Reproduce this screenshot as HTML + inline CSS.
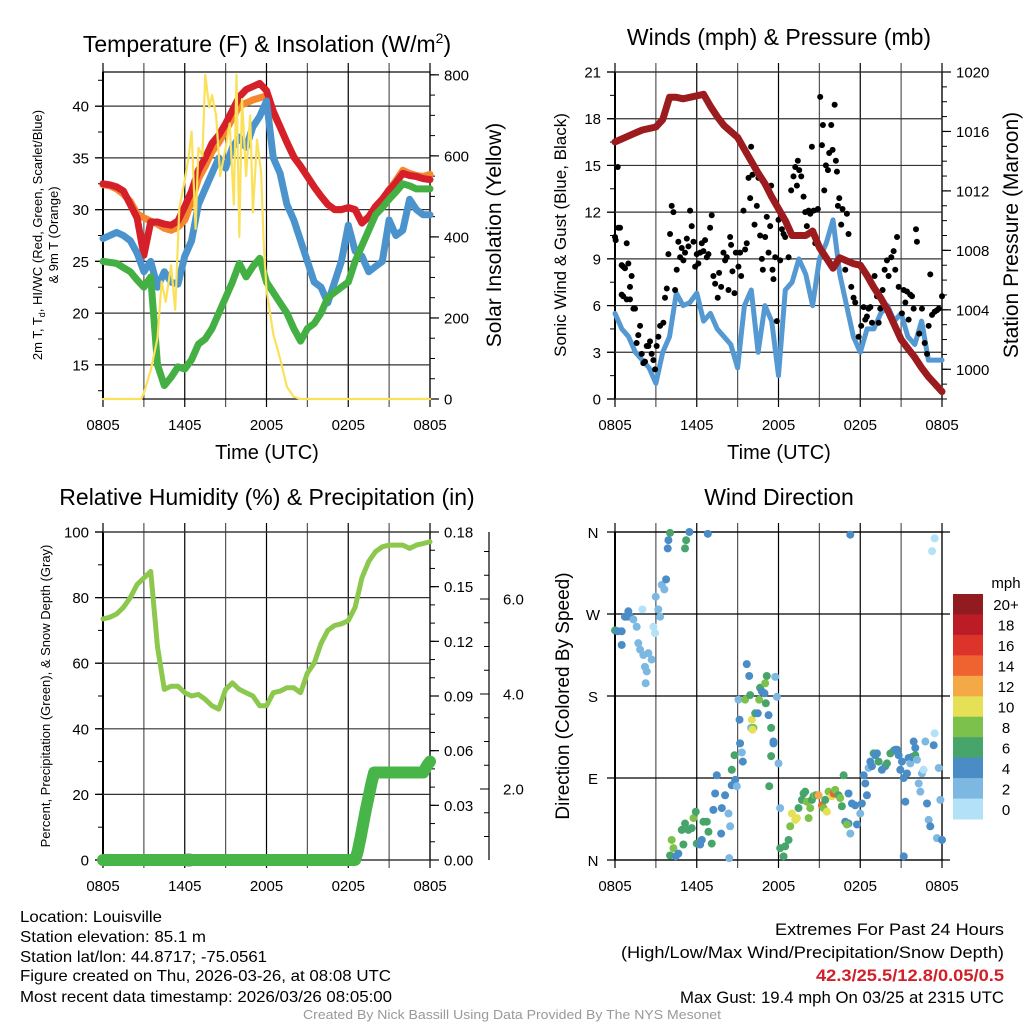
<!DOCTYPE html>
<html><head><meta charset="utf-8"><style>
html,body{margin:0;padding:0;background:#fff;}
svg{display:block;font-family:"Liberation Sans",Arial,sans-serif;}
</style></head><body>
<svg id="root" width="1024" height="1024" viewBox="0 0 1024 1024" xmlns="http://www.w3.org/2000/svg">
<rect width="1024" height="1024" fill="#fff"/>
<text x="267" y="52" font-size="23" text-anchor="middle">Temperature (F) &amp; Insolation (W/m<tspan font-size="14" dy="-9">2</tspan><tspan dy="9">)</tspan></text>
<text x="779" y="45" font-size="23" text-anchor="middle">Winds (mph) &amp; Pressure (mb)</text>
<text x="267" y="505" font-size="23" text-anchor="middle">Relative Humidity (%) &amp; Precipitation (in)</text>
<text x="779" y="505" font-size="23" text-anchor="middle">Wind Direction</text>
<text x="267" y="459" font-size="20" text-anchor="middle">Time (UTC)</text>
<text x="779" y="459" font-size="20" text-anchor="middle">Time (UTC)</text>
<text transform="translate(42,235) rotate(-90)" font-size="13" text-anchor="middle">2m T, T<tspan font-size="9" dy="3">d</tspan><tspan dy="-3">, HI/WC (Red, Green, Scarlet/Blue)</tspan></text>
<text transform="translate(58,235) rotate(-90)" font-size="13" text-anchor="middle">&amp; 9m T (Orange)</text>
<text transform="translate(501,235) rotate(-90)" font-size="21" text-anchor="middle">Solar Insolation (Yellow)</text>
<text transform="translate(566,235) rotate(-90)" font-size="17" text-anchor="middle">Sonic Wind &amp; Gust (Blue, Black)</text>
<text transform="translate(1018,235) rotate(-90)" font-size="21" text-anchor="middle">Station Pressure (Maroon)</text>
<text transform="translate(50,696) rotate(-90)" font-size="13" text-anchor="middle">Percent, Precipitation (Green), &amp; Snow Depth (Gray)</text>
<text transform="translate(569,696) rotate(-90)" font-size="19" text-anchor="middle">Direction (Colored By Speed)</text>
<g font-size="16">
<text x="20" y="922" textLength="142" lengthAdjust="spacingAndGlyphs">Location: Louisville</text>
<text x="20" y="942" textLength="186" lengthAdjust="spacingAndGlyphs">Station elevation: 85.1 m</text>
<text x="20" y="962" textLength="247" lengthAdjust="spacingAndGlyphs">Station lat/lon: 44.8717; -75.0561</text>
<text x="20" y="981" textLength="371" lengthAdjust="spacingAndGlyphs">Figure created on Thu, 2026-03-26, at 08:08 UTC</text>
<text x="20" y="1002" textLength="372" lengthAdjust="spacingAndGlyphs">Most recent data timestamp: 2026/03/26 08:05:00</text>
</g>
<g font-size="17">
<text x="775" y="935" textLength="229" lengthAdjust="spacingAndGlyphs">Extremes For Past 24 Hours</text>
<text x="621" y="958" textLength="383" lengthAdjust="spacingAndGlyphs">(High/Low/Max Wind/Precipitation/Snow Depth)</text>
<text x="816" y="981" textLength="188" lengthAdjust="spacingAndGlyphs" fill="#d0202a" font-weight="bold">42.3/25.5/12.8/0.05/0.5</text>
<text x="680" y="1003" textLength="324" lengthAdjust="spacingAndGlyphs">Max Gust: 19.4 mph On 03/25 at 2315 UTC</text>
</g>
<text x="303" y="1019" font-size="13" fill="#999" textLength="418" lengthAdjust="spacingAndGlyphs">Created By Nick Bassill Using Data Provided By The NYS Mesonet</text>
<g id="plots"></g>
</svg>
<script>
// ---------- data ----------
var timeLabels = ["0805","1405","2005","0205","0805"];
var halfHours = [];
for (var i=0;i<=48;i++) halfHours.push(i/2);
var tempRed = [32.5,32.4,32.2,31.8,30.5,29.2,25.6,28.8,28.8,28.6,28.5,28.9,30.3,31.8,33.8,35.0,36.4,37.2,38.3,39.6,40.9,41.6,41.9,42.2,41.5,39.5,38.0,36.5,35.1,34.2,33.2,32.2,31.3,30.5,30.0,30.0,30.2,30.0,28.7,29.3,30.3,31.0,31.9,32.6,33.5,33.3,33.2,33.0,32.9];
var tempOrange = [32.4,32.3,32.0,31.5,30.8,29.6,29.2,28.9,28.6,28.2,28.0,28.3,29.0,30.8,33.0,34.2,35.6,36.5,37.6,38.8,40.0,40.3,40.6,40.8,41.0,39.3,38.0,36.5,35.1,34.2,33.2,32.2,31.3,30.5,30.0,30.0,30.2,30.0,28.8,29.3,30.3,31.0,31.9,32.8,33.8,33.5,33.3,33.2,33.4];
var tempBlue = [27.2,27.5,27.8,27.5,27.0,25.8,24.0,25.0,22.5,24.0,23.0,22.8,25.5,27.0,30.5,32.0,33.5,35.0,34.0,36.0,37.0,36.0,38.0,39.0,40.5,35.0,33.5,30.5,29.0,27.0,25.0,23.0,22.5,21.0,23.0,25.0,28.5,26.0,25.5,24.0,24.5,25.0,29.0,27.5,28.0,31.0,30.0,29.5,29.5];
var tempGreen = [25.0,24.9,24.8,24.4,24.0,23.2,22.5,23.5,15.0,13.0,13.8,14.8,14.6,15.5,17.0,17.5,18.5,20.0,21.5,23.0,24.8,23.5,24.5,25.3,23.0,22.0,21.0,20.0,18.5,17.3,18.5,19.0,20.0,21.5,22.0,22.5,23.0,25.0,26.5,28.0,29.5,30.2,31.0,31.7,32.5,32.3,32.0,32.0,32.0];
var solarTime = [0,2.8,3.0,3.5,4.0,4.3,4.6,5.0,5.3,5.6,6.0,6.3,6.5,6.8,7.0,7.3,7.5,7.8,8.0,8.3,8.6,9.0,9.3,9.6,9.8,10.0,10.2,10.5,10.8,11.0,11.3,11.6,11.8,12.0,12.5,13.0,13.5,14.0,14.5,24];
var solarVal = [0,0,15,70,150,290,240,330,220,470,540,600,660,420,620,600,800,720,750,700,550,620,680,480,800,400,740,550,700,460,640,560,380,270,160,100,30,5,0,0];
var windSonic = [5.5,4.5,4.0,3.0,2.5,2.0,1.0,3.0,4.0,6.8,6.0,6.2,6.8,5.0,5.5,4.5,4.0,3.5,2.0,6.0,7.0,3.0,6.0,5.0,1.5,7.0,7.5,9.0,8.0,6.0,9.0,10.0,11.5,8.0,6.0,4.0,3.0,4.5,4.5,5.5,6.0,5.0,5.5,4.0,3.5,5.0,2.5,2.5,2.5];
var pressure = [1015.3,1015.5,1015.7,1015.9,1016.1,1016.2,1016.3,1016.8,1018.3,1018.3,1018.2,1018.3,1018.4,1018.5,1017.7,1017.0,1016.4,1016.0,1015.6,1014.8,1014.0,1013.2,1012.5,1011.6,1010.8,1010.0,1009.0,1009.0,1009.0,1009.3,1008.2,1007.5,1006.8,1007.5,1007.3,1007.1,1007.0,1006.3,1005.5,1004.8,1004.0,1003.0,1002.0,1001.4,1000.8,1000.1,999.5,999.0,998.5];
var gustTime = [0,0.05,0.2,0.24,0.37,0.49,0.6,0.73,0.86,0.98,0.49,0.6,0.86,1.1,1.22,1.1,1.35,1.47,1.59,1.71,1.84,1.96,2.08,2.2,2.33,2.45,2.57,2.69,2.82,2.94,3.06,3.18,3.31,3.55,3.67,3.8,3.92,4.04,4.16,4.29,4.41,4.53,4.65,4.78,4.9,5.02,5.14,5.27,5.39,5.51,5.63,5.76,5.88,6,6.12,6.25,6.37,6.49,6.61,6.74,6.86,6.98,7.1,7.22,7.35,7.54,7.64,7.79,7.96,8.08,8.2,8.33,8.45,8.52,8.62,8.77,8.87,9.06,9.18,9.26,9.43,9.55,9.67,9.8,9.92,9.99,10.09,10.24,10.41,10.53,10.65,10.78,10.85,11.02,11.14,11.27,11.39,11.46,11.56,11.63,11.76,11.88,12,12.12,12.25,12.37,12.49,12.74,12.93,13.1,13.23,13.35,13.42,13.52,13.67,13.84,13.96,14.08,14.21,14.33,14.45,14.57,14.7,14.89,15.06,15.19,15.26,15.36,15.48,15.63,15.72,15.87,15.97,16.12,16.21,16.29,16.36,16.46,16.6,16.7,16.9,17.02,17.14,17.34,17.51,17.63,17.88,18.07,18.25,18.37,18.49,18.61,18.74,18.86,19.05,19.23,19.35,19.47,19.64,19.79,19.96,20.08,20.28,20.45,20.57,20.7,20.82,21.06,21.19,21.31,21.43,21.55,21.67,21.8,21.92,22.09,22.16,22.33,22.53,22.73,22.9,23.02,23.14,23.27,23.46,23.63,23.76,24];
var gustVal = [10.4,10.2,14.9,11,11,8.6,8.5,8.4,10,8.7,6.7,6.6,6.4,6.4,7.9,7.2,5.8,5.8,3.6,4.1,4.7,2.9,2.3,2.4,3.4,3.4,3.7,2.9,2.5,1.9,3.4,4,4.7,4.9,6.5,7.1,9.3,10.6,12.4,12,7,8.3,10.1,9.1,9.7,8.9,9.4,10.3,9.8,12.1,11.1,10.1,8.5,9.3,8.7,9.4,10,9.5,10.2,9.1,9.3,11,11.8,7.9,7.4,6.5,8.1,7.2,9.4,8.9,9.1,7,10.4,9.9,8.2,6.8,9.4,8.5,9.4,7.9,12.1,9.6,10,14.2,12.9,16.2,14.4,11.2,12.4,14.2,10.5,9,8.3,10.4,11.7,9.4,11.1,13.7,8.3,7.7,9.1,5,11.5,8.9,10.9,10.6,10.4,9.1,13.4,14.3,14.9,13.7,15.3,14.7,14.3,13,12,11.1,12.1,11.9,16.2,12.1,10,12.2,19.4,16.3,17.6,13.4,15,14.7,15.8,17.6,16,18.9,15.3,14.6,12.4,12.9,11.2,12.2,8.3,11.9,10.6,7.2,6.5,6.2,4,4.7,5.9,5.1,5.3,5.8,5.9,4.9,7.9,6.6,4.9,5.8,7,8.3,8.9,7.9,9.1,9.5,8.3,10.4,7.2,5.5,7,6.2,6.9,5.1,6.7,6.6,5.8,10.9,10.1,4.2,5.8,3.6,2.9,4.7,8,5.4,5.6,5.7,5.8,6.6];
var rhVal = [73.5,74,75,77,80,84,86,88,65,52,53,53,51,50,50.5,49,47,46,52,54,52,51,50,47,47,51,51.5,52.5,52.5,51,57,60,66,70,71.5,72,73,77,86,91,94,95.5,96,96,96,95,96,96.5,97];
var precipTime = [0,18.5,18.7,18.9,19.1,19.3,19.5,19.7,19.9,20.5,21,22,23,23.5,23.8,24];
var precipVal = [0,0,0.005,0.012,0.02,0.028,0.035,0.042,0.048,0.048,0.048,0.048,0.048,0.048,0.052,0.054];
var snowTime = [6.3];
var snowVal = [0];
var wdTime = [0,0.2,0.49,0.49,0.73,0.98,0.86,1.1,1.35,1.59,1.71,1.84,2.01,2.08,2.2,2.33,2.25,2.45,2.69,2.82,2.94,2.99,3.18,3.31,3.43,3.62,3.75,3.87,3.92,4.04,5.14,5.22,5.46,6.81,4.04,4.16,4.29,4.46,4.65,4.9,5.02,5.14,5.39,5.63,5.76,5.93,6.0,6.25,6.37,6.49,6.74,6.86,7.1,7.22,7.35,7.47,7.84,8.08,7.79,8.33,8.45,8.57,8.82,8.94,8.38,8.57,8.77,9.18,9.31,9.38,9.14,9.06,9.55,9.67,9.85,9.92,10.04,9.99,10.16,10.09,10.29,10.48,10.58,10.65,10.78,10.97,11.02,11.14,11.07,11.27,11.46,11.63,11.63,11.46,11.32,11.76,11.88,12.0,12.12,12.12,12.37,12.49,12.74,12.86,12.98,13.23,13.35,13.47,13.72,13.84,13.96,14.08,14.21,14.33,14.45,14.57,14.7,14.82,14.94,15.19,15.31,15.43,15.55,15.67,15.92,16.04,16.16,16.41,16.53,16.65,16.78,16.9,17.14,17.02,17.27,17.39,17.63,17.76,18.0,18.12,18.25,18.37,18.49,18.61,18.74,18.86,18.98,19.1,19.23,19.35,19.59,19.84,19.96,20.21,20.45,20.57,20.7,20.82,20.94,21.06,21.19,21.31,21.43,21.55,21.67,21.8,21.92,22.04,22.04,22.16,22.29,22.41,22.53,22.65,22.78,22.9,23.02,23.14,23.27,23.46,23.46,23.39,23.63,23.76,23.88,24.0,17.14,17.27,21.19];
var wdDir = [252,251,251,236,267,273,267,267,264,256,238,231,275,225,212,207,194,227,220,256,249,289,275,267,302,297,308,342,351,359,342,351,360,358,5,22,13,4,7,33,17,40,33,35,46,53,18,17,22,42,42,31,18,55,73,93,57,71,29,51,37,82,88,81,2,99,115,128,118,108,154,176,176,215,202,181,154,145,145,143,161,161,176,189,185,183,194,202,172,159,145,130,128,114,81,201,179,106,57,13,4,15,22,37,51,44,46,57,66,73,75,64,46,57,66,70,71,71,71,60,57,66,53,75,70,73,77,71,68,59,93,42,40,39,29,62,60,39,51,62,93,84,71,101,108,103,117,115,117,108,99,103,106,117,120,121,121,115,99,108,90,64,95,112,106,113,130,115,123,110,84,75,95,99,130,62,44,37,339,353,139,126,24,101,66,22,73,357,4,57];
var wdSpd = [6,4,4,4,4,4,4,4,2,2,2,2,0,2,2,2,2,2,2,0,0,2,2,2,2,2,4,4,4,6,6,6,4,4,6,8,8,4,4,6,6,6,6,6,8,6,6,4,4,6,6,6,6,4,4,4,4,4,4,2,2,4,4,2,2,6,6,4,2,4,4,2,8,4,4,6,10,2,8,10,6,4,8,6,4,4,8,6,6,4,6,4,4,6,6,2,2,2,2,6,6,6,6,8,10,10,10,6,6,6,6,8,8,8,6,6,8,6,12,14,8,6,10,8,10,14,8,6,8,6,6,4,4,8,2,4,4,4,2,4,4,4,4,2,4,4,6,4,4,6,4,4,6,6,6,4,4,4,4,4,4,4,4,4,2,4,4,6,4,2,2,2,2,0,2,4,2,4,0,0,0,4,2,2,2,4,4,4];
var speedBins = ["0","2","4","6","8","10","12","14","16","18","20+"];
var binColors = ["#b3e1f7","#7db8e2","#4a8cc6","#47a56c","#7cc14b","#e6e056","#f5a846","#ee6330","#dc342a","#bb1c25","#921b1f"];

// ---------- helpers ----------
var NS="http://www.w3.org/2000/svg";
var plots=document.getElementById('plots');
function mk(tag,attrs,parent){var e=document.createElementNS(NS,tag);for(var k in attrs)e.setAttribute(k,attrs[k]);(parent||plots).appendChild(e);return e;}
function lin(d0,d1,r0,r1){return function(v){return r0+(v-d0)/(d1-d0)*(r1-r0);};}

function frame(x0,x1,y0,y1,name){
  var g=mk('g',{});
  
  
  var xs=lin(0,24,x0,x1);
  for(var h=0;h<=24;h+=3){
    var l=mk('line',{x1:xs(h),x2:xs(h),y1:y0-9,y2:y1+8,stroke:(h%6==0)?'#000':'#555','stroke-width':1.2},g);
    
    
  }
  for(var i=0;i<timeLabels.length;i++){
    var t=mk('text',{x:xs(i*6),y:y1+31,'font-size':15,'text-anchor':'middle'},g);
    t.textContent=timeLabels[i];
    
    
  }
  mk('rect',{x:x0,y:y0,width:x1-x0,height:y1-y0,fill:'none',stroke:'#000','stroke-width':1.2},g);
  mk('line',{x1:x0,x2:x0,y1:y0,y2:y1,stroke:'#000','stroke-width':2},g);
  return {g:g,xs:xs};
}
function yAxis(g,x0,x1,ys,majors,minors,fmt,side,grid,name){
  minors.forEach(function(v){
    var y=ys(v);
    if(side=='left') mk('line',{x1:x0-5,x2:x0,y1:y,y2:y,stroke:'#000','stroke-width':1},g);
    else mk('line',{x1:x1,x2:x1+5,y1:y,y2:y,stroke:'#000','stroke-width':1},g);
  });
  majors.forEach(function(v){
    var y=ys(v);
    if(grid){var gl=mk('line',{x1:x0-8,x2:x1+(side=='right'?8:0),y1:y,y2:y,stroke:'#333','stroke-width':1.2},g);
      
      }
    if(side=='left') mk('line',{x1:x0-8,x2:x0,y1:y,y2:y,stroke:'#000','stroke-width':1.2},g);
    else mk('line',{x1:x1,x2:x1+9,y1:y,y2:y,stroke:'#000','stroke-width':1.2},g);
    var t=mk('text',{x:side=='left'?x0-14:x1+14,y:y+5.5,'font-size':15,'text-anchor':side=='left'?'end':'start'},g);
    t.textContent=fmt(v);
    
    
  });
}
function range(a,b,s){var r=[];for(var v=a;v<=b+1e-9;v+=s)r.push(Math.round(v*1000)/1000);return r;}
function line(xs,ys,tArr,vArr,color,w,name,grp){
  var pts=[];var n=Math.min(tArr.length,vArr.length);
  for(var i=0;i<n;i++)pts.push(xs(tArr[i]).toFixed(1)+','+ys(vArr[i]).toFixed(1));
  var p=mk('polyline',{points:pts.join(' '),fill:'none',stroke:color,'stroke-width':w,'stroke-linejoin':'round','stroke-linecap':'round'},grp);
  
  
  return p;
}

// ---------- Panel 1: temperature ----------
(function(){
  var x0=103,x1=430,y0=72,y1=399;
  var f=frame(x0,x1,y0,y1,'temperature');
  var ys=lin(11.7,43.3,y1,y0), ss=lin(0,807,y1,y0);
  yAxis(f.g,x0,x1,ys,[15,20,25,30,35,40],range(12.5,42.5,2.5),function(v){return v;},'left',true,'temperature');
  yAxis(f.g,x0,x1,ss,[0,200,400,600,800],range(0,800,50),function(v){return v;},'right',false,'solar');
  var g=mk('g',{});
  
  
  line(f.xs,ys,halfHours,tempOrange,'#f5872f',7,'temp-9m-orange-line',g);
  line(f.xs,ys,halfHours,tempRed,'#d5202a',7,'temp-2m-red-line',g);
  line(f.xs,ys,halfHours,tempBlue,'#4b93cc',7,'windchill-blue-line',g);
  line(f.xs,ys,halfHours,tempGreen,'#44b043',7,'dewpoint-green-line',g);
  line(f.xs,ss,solarTime,solarVal,'#fbe15a',2.2,'solar-insolation-line',g);
})();

// ---------- Panel 2: winds ----------
(function(){
  var x0=615,x1=942,y0=72,y1=399;
  var f=frame(x0,x1,y0,y1,'wind');
  var ys=lin(0,21,y1,y0), ps=lin(998,1020,y1,y0);
  yAxis(f.g,x0,x1,ys,range(0,21,3),range(0,21,1.5),function(v){return v;},'left',true,'wind');
  yAxis(f.g,x0,x1,ps,[1000,1004,1008,1012,1016,1020],range(998,1020,1),function(v){return v;},'right',false,'pressure');
  var g=mk('g',{});
  
  
  line(f.xs,ys,halfHours,windSonic,'#5499d2',5,'sonic-wind-line',g);
  var n=Math.min(gustTime.length,gustVal.length);
  for(var i=0;i<n;i++){
    var c=mk('circle',{cx:f.xs(gustTime[i]),cy:ys(gustVal[i]),r:3,fill:'#000'},g);
    
    
  }
  line(f.xs,ps,halfHours,pressure,'#9c1b1f',7,'pressure-line',g);
})();

// ---------- Panel 3: humidity ----------
(function(){
  var x0=103,x1=430,y0=532,y1=860;
  var f=frame(x0,x1,y0,y1,'humidity');
  var ys=lin(0,100,y1,y0), ps=lin(0,0.18,y1,y0);
  yAxis(f.g,x0,x1,ys,range(0,100,20),range(0,100,10),function(v){return v;},'left',true,'humidity');
  yAxis(f.g,x0,x1,ps,range(0,0.18,0.03),range(0,0.18,0.01),function(v){return v.toFixed(2);},'right',false,'precip');
  var sg=mk('g',{});
  
  
  var sx=489, sd=lin(2,6,789,599);
  mk('line',{x1:sx,x2:sx,y1:532,y2:860,stroke:'#000','stroke-width':1.2},sg);
  [0.5,1,1.5,2,2.5,3,3.5,4,4.5,5,5.5,6,6.5,7].forEach(function(v){var y=sd(v);if(y<532||y>860)return;
    var maj=(v%2==0);mk('line',{x1:sx-(maj?9:5),x2:sx,y1:y,y2:y,stroke:'#000','stroke-width':1},sg);
    if(maj){var t=mk('text',{x:sx+14,y:y+5.5,'font-size':15},sg);t.textContent=v.toFixed(1);
      
      }
  });
  var g=mk('g',{});
  
  
  for(var i=0;i<snowTime.length;i++){
    var s=mk('circle',{cx:f.xs(snowTime[i]),cy:ys(snowVal[i]),r:7,fill:'#bbb'},g);
    
    
  }
  line(f.xs,ys,halfHours,rhVal,'#8cc84e',5,'relative-humidity-line',g);
  line(f.xs,ps,precipTime,precipVal,'#48b548',12,'precipitation-line',g);
})();

// ---------- Panel 4: wind direction ----------
(function(){
  var x0=615,x1=942,y0=532,y1=860;
  var f=frame(x0,x1,y0,y1,'direction');
  var ds=lin(0,360,y1,y0);
  var labs=['N','E','S','W','N'];
  [0,90,180,270,360].forEach(function(v,i){
    var y=ds(v);
    var gl=mk('line',{x1:x0-8,x2:x1+8,y1:y,y2:y,stroke:'#000','stroke-width':1.2},f.g);
    
    
    var t=mk('text',{x:x0-22,y:y+6,'font-size':15,'text-anchor':'middle'},f.g);
    t.textContent=labs[i];
    
    
  });
  var g=mk('g',{});
  
  
  var n=Math.min(wdTime.length,wdDir.length);
  for(var i=0;i<n;i++){
    var sp=(wdSpd[i]===undefined)?4:wdSpd[i];
    var bi=Math.min(10,Math.round(sp/2));
    var c=mk('circle',{cx:f.xs(wdTime[i]),cy:ds(wdDir[i]),r:4,fill:binColors[bi]},g);
    
    
  }
  var cb=mk('g',{});
  
  
  var cy0=594,cy1=819,bh=(cy1-cy0)/speedBins.length;
  var u=mk('text',{x:1006,y:588,'font-size':15,'text-anchor':'middle'},cb);
  u.textContent='mph';
  
  
  for(var k=0;k<speedBins.length;k++){
    var idx=speedBins.length-1-k;
    var y=cy0+k*bh;
    var r=mk('rect',{x:953,y:y,width:30,height:bh+0.5,fill:binColors[idx]},cb);
    
    
    var t=mk('text',{x:1006,y:y+bh/2+6,'font-size':15,'text-anchor':'middle'},cb);
    t.textContent=speedBins[idx];
    
    
  }
})();
</script>
</body></html>
